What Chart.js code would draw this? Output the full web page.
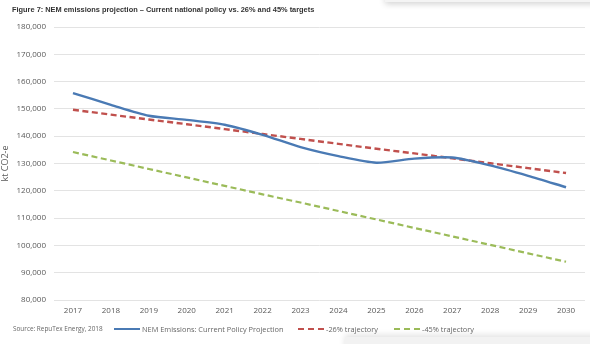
<!DOCTYPE html>
<html lang="en">
<head>
  <meta charset="UTF-8" />
  <title>NEM emissions projection</title>
  <script src="https://cdn.jsdelivr.net/npm/chart.js"></script>
  <style>
    body {
      margin: 0;
      width: 590px;
      height: 344px;
      background: #fff;
      font-family: "Open Sans", Arial, sans-serif;
      position: relative;
      overflow: hidden;
    }
    .chart-box {
      position: absolute;
      left: 0; top: 0;
      width: 590px; height: 344px;
    }
    .title {
      position: absolute;
      left: 12px; top: 5px;
      font-size: 7.4px;
      font-weight: bold;
      color: #333;
      font-family: Arial, sans-serif;
    }
    .footer {
      position: absolute;
      top: 324px;
      font-size: 7.4px;
      color: #666;
      display: flex;
      align-items: center;
      white-space: nowrap;
    }
    .swatch { width: 26px; height: 0; margin-right: 2px; }
    .shade-top {
      position: absolute; left: 385px; top: -6px; width: 220px; height: 8px;
      box-shadow: 0 2px 6px rgba(0,0,0,0.18); background: #f4f4f4;
    }
    .shade-bottom {
      position: absolute; left: 345px; top: 337px; width: 260px; height: 20px;
      box-shadow: 0 -2px 6px rgba(0,0,0,0.12); background: #f2f2f2;
    }
  </style>
</head>
<body>
  <div class="shade-top"></div>
  <div class="chart-box"><canvas id="lineChart" width="590" height="344"></canvas></div>
  <div class="title">Figure 7: NEM emissions projection – Current national policy vs. 26% and 45% targets</div>
  <div class="footer" style="left:13px; font-size:6.4px">Source: RepuTex Energy, 2018</div>
  <div class="footer" style="left:114px"><span class="swatch" style="border-top:2.5px solid #4a7ab4"></span>NEM Emissions: Current Policy Projection</div>
  <div class="footer" style="left:298px"><span class="swatch" style="border-top:2.5px dashed #c0504d"></span>-26% trajectory</div>
  <div class="footer" style="left:394px"><span class="swatch" style="border-top:2.5px dashed #9bbb59"></span>-45% trajectory</div>
  <div class="shade-bottom"></div>

  <script>
    const years = ['2017','2018','2019','2020','2021','2022','2023','2024','2025','2026','2027','2028','2029','2030'];
    const currentPolicy = [155800, 151500, 147500, 146000, 144200, 140500, 136000, 132700, 130300, 131800, 132200, 129300, 125500, 121300];
    const target26 = [149700, 147900, 146100, 144400, 142600, 140800, 139000, 137200, 135400, 133700, 131900, 130100, 128300, 126500];
    const target45 = [134200, 131100, 128000, 124900, 121800, 118700, 115700, 112600, 109500, 106400, 103300, 100200, 97100, 94000];
    const yMin = 80000, yMax = 180000, yStep = 10000;

    const tickFont = { family: '"Open Sans", Arial, sans-serif', size: 8 };

    new Chart(document.getElementById('lineChart'), {
      type: 'line',
      data: {
        labels: years,
        datasets: [
          { label: 'NEM Emissions: Current Policy Projection', data: currentPolicy, borderColor: '#4a7ab4', borderWidth: 2.4, tension: 0.25 },
          { label: '-26% trajectory', data: target26, borderColor: '#c0504d', borderWidth: 2.4, borderDash: [6, 3.5] },
          { label: '-45% trajectory', data: target45, borderColor: '#9bbb59', borderWidth: 2.2, borderDash: [6, 3.5] }
        ]
      },
      options: {
        responsive: false,
        animation: false,
        elements: { point: { radius: 0 } },
        layout: { padding: { left: 0, right: 5, top: 27, bottom: 0 } },
        plugins: { legend: { display: false }, tooltip: { enabled: false } },
        scales: {
          x: {
            offset: true,
            grid: { display: false, drawTicks: false },
            border: { display: false },
            ticks: { color: '#595959', font: tickFont, padding: 6, maxRotation: 0 },
            afterFit: s => { s.height = 44; }
          },
          y: {
            min: yMin, max: yMax,
            grid: { color: '#e3e3e3', drawTicks: false },
            border: { display: false },
            ticks: { stepSize: yStep, color: '#595959', font: tickFont, padding: 8 },
            title: { display: true, text: 'kt CO2-e', color: '#595959', font: { family: tickFont.family, size: 9 }, padding: 0 },
            afterFit: s => { s.width = 54; }
          }
        }
      }
    });
  </script>
</body>
</html>
